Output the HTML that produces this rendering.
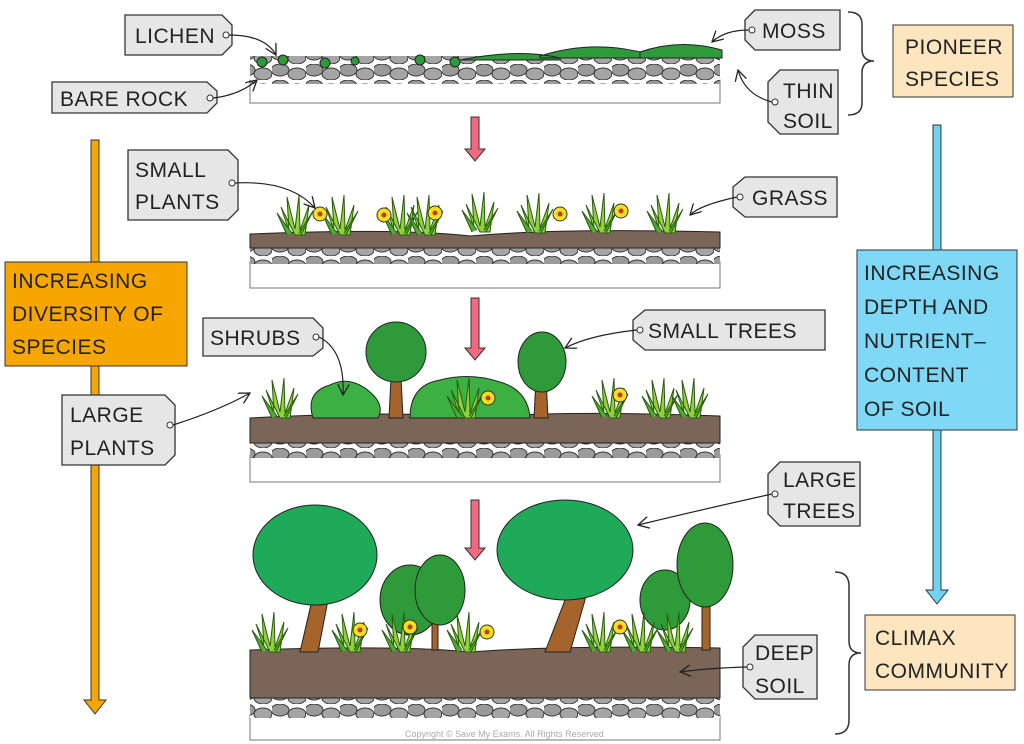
<!DOCTYPE html>
<html><head><meta charset="utf-8"><style>
html,body{margin:0;padding:0;background:#fff;width:1024px;height:744px;overflow:hidden}
svg text{font-family:"Liberation Sans",sans-serif;font-size:21px;fill:#222;letter-spacing:0.5px}
</style></head><body>
<svg width="1024" height="744" viewBox="0 0 1024 744" xmlns="http://www.w3.org/2000/svg">
<defs>
<pattern id="rk" width="34" height="16" patternUnits="userSpaceOnUse">
<rect width="34" height="16" fill="#fff"/>
<ellipse cx="8" cy="6" rx="9" ry="6" fill="#9a9a9a" stroke="#333" stroke-width="1"/>
<ellipse cx="25" cy="10" rx="9" ry="6" fill="#a5a5a5" stroke="#333" stroke-width="1"/>
</pattern>
<marker id="ah" viewBox="0 0 12 12" refX="11" refY="6" markerWidth="12" markerHeight="12" orient="auto" markerUnits="userSpaceOnUse">
<path d="M0,0 L11,6 L0,12" fill="none" stroke="#222" stroke-width="1.3"/>
</marker>
<g id="tuft">
<path d="M0,0 L-14,-28 L-6,-4 L-8,-38 L0,-6 L4,-40 L5,-5 L14,-30 L10,0 Z" fill="#8fd13a" stroke="#2a5a10" stroke-width="1"/>
<path d="M-8,0 L-18,-22 L-3,-2 M6,0 L18,-24 L4,-2" fill="#4cae2c" stroke="#2a5a10" stroke-width="1"/>
</g>
<g id="fl"><circle r="7" fill="#f5e11a" stroke="#333"/><circle r="2.5" fill="#c0392b"/></g>
<g id="tree"><path d="M-6,0 L-4,-40 L-14,-55 L-2,-48 L4,-60 L6,-40 L8,0 Z" fill="#a5642c" stroke="#222"/></g>
</defs>

<!-- Panel 1 -->
<rect x="250" y="80" width="470" height="23" fill="#fff" stroke="#777"/>
<rect x="250" y="56" width="470" height="28" fill="url(#rk)"/>
<path d="M460,60 Q520,48 560,58 L560,60Z M540,56 Q590,40 640,52 L640,58 L540,58Z M640,52 Q680,38 722,50 L722,58 L640,58Z" fill="#2f9a3a" stroke="#222"/>
<g fill="#2f9a3a" stroke="#222"><circle cx="262" cy="62" r="5"/><circle cx="283" cy="60" r="5"/><circle cx="325" cy="63" r="5"/><circle cx="355" cy="61" r="4"/><circle cx="420" cy="60" r="5"/><circle cx="455" cy="62" r="5"/></g>

<!-- Panel 2 -->
<rect x="250" y="262" width="470" height="26" fill="#fff" stroke="#777"/>
<rect x="250" y="246" width="470" height="18" fill="url(#rk)"/>
<path d="M250,234 Q400,228 470,236 Q560,228 720,232 L720,248 L250,248Z" fill="#7a6556" stroke="#222"/>
<g>
<use href="#tuft" x="295" y="235"/><use href="#tuft" x="340" y="235"/><use href="#tuft" x="400" y="235"/><use href="#tuft" x="425" y="235"/><use href="#tuft" x="480" y="232"/><use href="#tuft" x="535" y="233"/><use href="#tuft" x="600" y="233"/><use href="#tuft" x="665" y="233"/>
<use href="#fl" x="320" y="214"/><use href="#fl" x="384" y="215"/><use href="#fl" x="435" y="213"/><use href="#fl" x="560" y="214"/><use href="#fl" x="621" y="211"/>
</g>

<!-- Panel 3 -->
<rect x="250" y="455" width="470" height="27" fill="#fff" stroke="#777"/>
<rect x="250" y="440" width="470" height="18" fill="url(#rk)"/>
<path d="M250,418 Q400,410 470,418 Q560,410 720,416 L720,443 L250,443Z" fill="#7a6556" stroke="#222"/>
<use href="#tree" x="395" y="418"/><circle cx="396" cy="352" r="30" fill="#2f9a3a" stroke="#222"/>
<use href="#tree" x="540" y="418"/><ellipse cx="542" cy="362" rx="24" ry="30" fill="#2f9a3a" stroke="#222"/>
<path d="M313,418 Q305,392 330,385 Q350,375 370,392 Q385,405 378,418Z" fill="#3cb043" stroke="#222"/>
<path d="M410,418 Q410,385 440,380 Q470,372 500,382 Q528,390 530,418Z" fill="#3cb043" stroke="#222"/>
<use href="#tuft" x="280" y="418"/><use href="#tuft" x="465" y="418"/><use href="#tuft" x="610" y="418"/><use href="#tuft" x="660" y="418"/><use href="#tuft" x="690" y="418"/>
<use href="#fl" x="488" y="398"/><use href="#fl" x="620" y="395"/>

<!-- Panel 4 -->
<rect x="250" y="715" width="470" height="25" fill="#fff" stroke="#777"/>
<rect x="250" y="696" width="470" height="22" fill="url(#rk)"/>
<path d="M250,650 Q400,645 470,652 Q560,645 720,648 L720,698 L250,698Z" fill="#7a6556" stroke="#222"/>
<path d="M300,652 L312,600 L290,580 L318,590 L332,560 L328,600 L318,652Z" fill="#a5642c" stroke="#222"/>
<ellipse cx="315" cy="555" rx="62" ry="50" fill="#1faa5a" stroke="#222"/>
<path d="M545,652 L565,600 L545,580 L572,590 L590,565 L585,600 L570,652Z" fill="#a5642c" stroke="#222"/>
<ellipse cx="565" cy="550" rx="68" ry="50" fill="#1faa5a" stroke="#222"/>
<rect x="432" y="590" width="6" height="60" fill="#a5642c" stroke="#222"/>
<ellipse cx="410" cy="600" rx="30" ry="35" fill="#2f9a3a" stroke="#222"/>
<ellipse cx="440" cy="590" rx="25" ry="35" fill="#2f9a3a" stroke="#222"/>
<rect x="702" y="570" width="8" height="80" fill="#a5642c" stroke="#222"/>
<ellipse cx="665" cy="600" rx="25" ry="30" fill="#2f9a3a" stroke="#222"/>
<ellipse cx="705" cy="565" rx="28" ry="42" fill="#2f9a3a" stroke="#222"/>
<use href="#tuft" x="270" y="652"/><use href="#tuft" x="350" y="652"/><use href="#tuft" x="400" y="652"/><use href="#tuft" x="465" y="652"/><use href="#tuft" x="600" y="652"/><use href="#tuft" x="640" y="652"/><use href="#tuft" x="675" y="652"/>
<use href="#fl" x="360" y="630"/><use href="#fl" x="410" y="627"/><use href="#fl" x="487" y="632"/><use href="#fl" x="620" y="627"/>
<text x="405" y="737" style="font-size:9px;fill:#aaa;letter-spacing:0">Copyright © Save My Exams. All Rights Reserved</text>

<!-- red arrows -->
<g fill="#f06a7e" stroke="#333" stroke-width="1">
<path d="M471,117 h8 v32 h6 l-10,12 l-10,-12 h6z"/>
<path d="M471,298 h8 v50 h6 l-10,12 l-10,-12 h6z"/>
<path d="M471,500 h8 v48 h6 l-10,12 l-10,-12 h6z"/>
</g>

<!-- orange arrow -->
<path d="M91,140 h8 v560 h7 l-11,14 l-11,-14 h7z" fill="#f7a600" stroke="#333"/>
<rect x="5" y="262" width="182" height="104" fill="#f7a600" stroke="#333"/>
<text x="12" y="288">INCREASING</text><text x="12" y="321">DIVERSITY OF</text><text x="12" y="354">SPECIES</text>

<!-- blue arrow -->
<path d="M933,125 h8 v465 h7 l-11,14 l-11,-14 h7z" fill="#6fd3f3" stroke="#333"/>
<rect x="857" y="250" width="160" height="180" fill="#7fd9f6" stroke="#333"/>
<text x="864" y="280">INCREASING</text><text x="864" y="314">DEPTH  AND</text><text x="864" y="348">NUTRIENT–</text><text x="864" y="382">CONTENT</text><text x="864" y="416">OF  SOIL</text>

<!-- peach boxes and braces -->
<rect x="893" y="25" width="120" height="72" fill="#fde5c0" stroke="#333"/>
<text x="905" y="54">PIONEER</text><text x="905" y="86">SPECIES</text>
<rect x="865" y="615" width="150" height="75" fill="#fde5c0" stroke="#333"/>
<text x="875" y="645">CLIMAX</text><text x="875" y="678">COMMUNITY</text>
<path d="M848,12 q14,0 14,12 v25 q0,12 12,12 q-12,0 -12,12 v30 q0,12 -14,12" fill="none" stroke="#333" stroke-width="1.5"/>
<path d="M835,572 q14,0 14,14 v55 q0,12 12,12 q-12,0 -12,12 v55 q0,14 -14,14" fill="none" stroke="#333" stroke-width="1.5"/>

<!-- tags -->
<g fill="#e6e6e6" stroke="#333" stroke-width="1.3">
<path d="M125,15 h97 l10,10 v20 l-10,10 h-97z"/>
<path d="M52,82 h155 l10,9 v12 l-10,10 h-155z"/>
<path d="M755,10 l-10,10 v20 l10,10 h85 v-40z"/>
<path d="M780,70 l-12,12 v40 l12,12 h58 v-64z"/>
<path d="M128,150 h100 l10,10 v50 l-10,10 h-100z"/>
<path d="M745,177 l-12,10 v20 l12,10 h92 v-40z"/>
<path d="M203,318 h110 l10,10 v20 l-10,8 h-110z"/>
<path d="M645,310 l-12,10 v20 l12,10 h180 v-40z"/>
<path d="M62,395 h103 l10,10 v50 l-10,10 h-103z"/>
<path d="M780,462 l-12,12 v40 l12,12 h80 v-64z"/>
<path d="M755,635 l-12,12 v40 l12,12 h62 v-64z"/>
</g>
<g fill="#fff" stroke="#333"><circle cx="226" cy="35" r="3"/><circle cx="210" cy="98" r="3"/><circle cx="752" cy="30" r="3"/><circle cx="775" cy="102" r="3"/><circle cx="232" cy="183" r="3"/><circle cx="740" cy="197" r="3"/><circle cx="316" cy="337" r="3"/><circle cx="640" cy="330" r="3"/><circle cx="170" cy="425" r="3"/><circle cx="775" cy="494" r="3"/><circle cx="750" cy="667" r="3"/></g>
<text x="135" y="43">LICHEN</text>
<text x="60" y="106">BARE ROCK</text>
<text x="762" y="38">MOSS</text>
<text x="783" y="98">THIN</text><text x="783" y="128">SOIL</text>
<text x="135" y="177">SMALL</text><text x="135" y="209">PLANTS</text>
<text x="752" y="205">GRASS</text>
<text x="210" y="345">SHRUBS</text>
<text x="648" y="338">SMALL  TREES</text>
<text x="70" y="422">LARGE</text><text x="70" y="455">PLANTS</text>
<text x="783" y="487">LARGE</text><text x="783" y="518">TREES</text>
<text x="755" y="660">DEEP</text><text x="755" y="693">SOIL</text>

<!-- leader lines -->
<g fill="none" stroke="#222" stroke-width="1.2" marker-end="url(#ah)">
<path d="M229,35 Q265,35 276,55"/><path d="M213,98 Q240,95 257,80"/>
<path d="M749,30 Q725,30 712,42"/><path d="M772,102 Q745,95 738,70"/>
<path d="M235,183 Q290,180 315,208"/><path d="M737,197 Q700,205 690,215"/>
<path d="M319,337 Q345,350 343,395"/><path d="M637,330 Q590,335 565,348"/>
<path d="M173,425 Q220,410 250,393"/><path d="M772,494 Q700,510 638,525"/>
<path d="M747,667 Q710,668 680,672"/>
</g>
</svg>
</body></html>
